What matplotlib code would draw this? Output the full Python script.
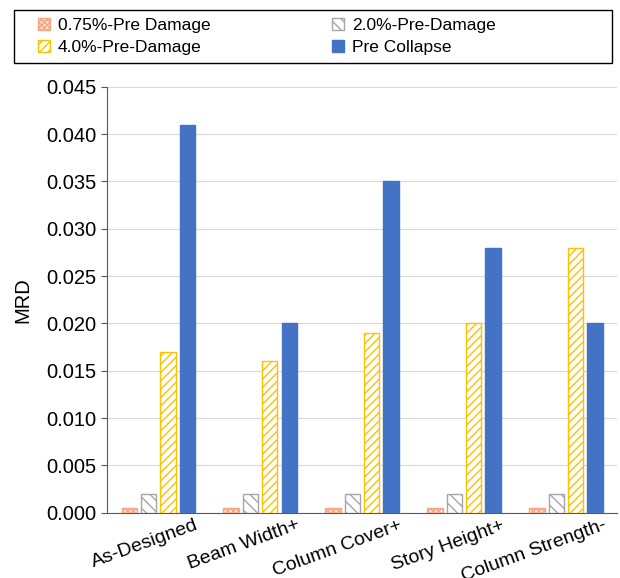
import matplotlib.pyplot as plt
from matplotlib.patches import Rectangle
import numpy as np

plt.rcParams['font.family'] = ['Liberation Sans', 'DejaVu Sans']
plt.rcParams['hatch.linewidth'] = 1.0

categories = ["As-Designed", "Beam Width+", "Column Cover+", "Story Height+", "Column Strength-"]
series_names = ["0.75%-Pre Damage", "2.0%-Pre-Damage", "4.0%-Pre-Damage", "Pre Collapse"]
pre_075 = [0.0005, 0.0005, 0.0005, 0.0005, 0.0005]
pre_20 = [0.002, 0.002, 0.002, 0.002, 0.002]
pre_40 = [0.017, 0.016, 0.019, 0.020, 0.028]
pre_collapse = [0.041, 0.020, 0.035, 0.028, 0.020]

styles = [
    dict(facecolor="#fbe3d6", edgecolor="#f4a582", hatch="xxxxxx"),
    dict(facecolor="white", edgecolor="#a6a6a6", hatch="\\\\\\"),
    dict(facecolor="white", edgecolor="#ffc000", hatch="////"),
    dict(facecolor="#4472c4", edgecolor="#4472c4", hatch=None),
]

fig = plt.figure(figsize=(6.2, 5.78), dpi=100)
ax = fig.add_axes([0.173, 0.113, 0.822, 0.737])

x = np.arange(len(categories))
width = 0.15
step = 0.19
data = [pre_075, pre_20, pre_40, pre_collapse]
handles = []
for i, (vals, st, name) in enumerate(zip(data, styles, series_names)):
    off = (i - 1.5) * step
    b = ax.bar(x + off, vals, width, label=name, linewidth=1.0, zorder=3, **st)
    handles.append(b)

ax.set_xlim(-0.5, len(categories) - 0.5)
ax.set_ylim(0, 0.045)
yt = np.arange(0, 0.0451, 0.005)
ax.set_yticks(yt)
ax.set_yticklabels([f"{v:.3f}" for v in yt], fontsize=14.5)
# rotated labels end a little to the right of each bar group
ax.set_xticks(x + 0.36)
ax.set_xticklabels(categories, rotation=20, ha="right", rotation_mode="anchor", fontsize=14)
ax.tick_params(axis="x", length=0, pad=3)
ax.tick_params(axis="y", length=4, color="#595959")
ax.set_ylabel("MRD", fontsize=14.5, labelpad=10)
ax.grid(axis="y", color="#d9d9d9", linewidth=0.8, zorder=0)
for s in ["top", "right"]:
    ax.spines[s].set_visible(False)
for s in ["left", "bottom"]:
    ax.spines[s].set_color("#595959")

# legend box across the top
fig.patches.append(Rectangle((0.0226, 0.891), 0.964, 0.092, transform=fig.transFigure,
                             facecolor="white", edgecolor="black", linewidth=1.0))
leg = fig.legend(handles=[handles[0], handles[2], handles[1], handles[3]],
                 labels=[series_names[0], series_names[2], series_names[1], series_names[3]],
                 loc="upper left", bbox_to_anchor=(38 / 620, 1 - 18 / 578),
                 ncol=2, fontsize=12.5, frameon=False,
                 handlelength=0.7, handleheight=0.7,
                 handletextpad=0.45, borderaxespad=0, borderpad=0,
                 labelspacing=0.38, columnspacing=7.0)

fig.savefig("out.png", dpi=100)
